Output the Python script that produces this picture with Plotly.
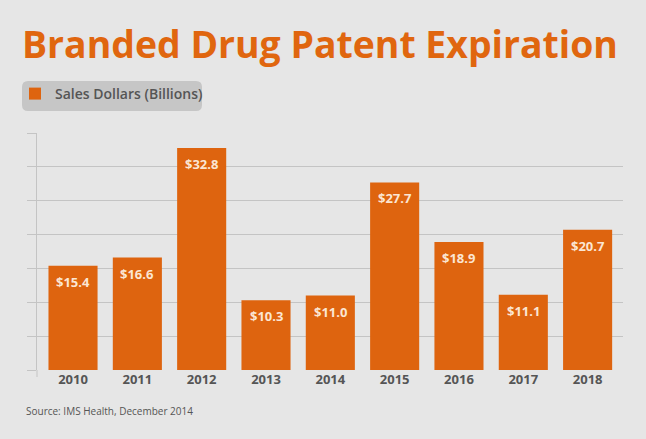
import plotly.graph_objects as go

years = ["2010", "2011", "2012", "2013", "2014", "2015", "2016", "2017", "2018"]
sales = [15.4, 16.6, 32.8, 10.3, 11.0, 27.7, 18.9, 11.1, 20.7]
labels = ["$15.4", "$16.6", "$32.8", "$10.3", "$11.0", "$27.7", "$18.9", "$11.1", "$20.7"]

W, H = 646, 439
L, R, T, B = 37, 23, 133, 69
PW, PH = W - L - R, H - T - B

def px(xp):
    return (xp - L) / PW

def py(yp):
    return (H - B - yp) / PH

BG = "#e6e6e6"
ORANGE = "#de640f"
GRID = "#c4c4c4"
TXT = "#555555"
FONT = "Open Sans"

fig = go.Figure()
fig.add_trace(go.Bar(
    x=years, y=sales, name="Sales Dollars (Billions)",
    marker=dict(color=ORANGE, line=dict(width=0)),
    hoverinfo="skip",
))

# value labels inside top of each bar (category index positions on the x axis)
for i, (v, lab) in enumerate(zip(sales, labels)):
    fig.add_annotation(x=i, y=v, xref="x", yref="y", text="<b>" + lab + "</b>",
                       showarrow=False, yanchor="top", yshift=-5,
                       font=dict(family=FONT, size=13, color="#fbe6d3"))

# rounded legend background
x0, x1 = px(22), px(202)
y0, y1 = py(111), py(81)
rx, ry = 6 / PW, 6 / PH
path = (f"M {x0+rx},{y0} L {x1-rx},{y0} Q {x1},{y0} {x1},{y0+ry} "
        f"L {x1},{y1-ry} Q {x1},{y1} {x1-rx},{y1} L {x0+rx},{y1} "
        f"Q {x0},{y1} {x0},{y1-ry} L {x0},{y0+ry} Q {x0},{y0} {x0+rx},{y0} Z")
fig.add_shape(type="path", path=path, xref="paper", yref="paper",
              fillcolor="#c6c6c6", line=dict(width=0), layer="below")

# axis line extension below baseline
fig.add_shape(type="line", xref="paper", yref="paper", x0=0, x1=0,
              y0=py(377), y1=0, line=dict(color=GRID, width=1))

fig.add_annotation(text="<b>Branded Drug Patent Expiration</b>", xref="paper", yref="paper",
                   x=px(20), y=py(43), xanchor="left", yanchor="middle", showarrow=False,
                   font=dict(family=FONT, size=37.4, color="#e0660f"))

fig.add_annotation(text="Source: IMS Health, December 2014", xref="paper", yref="paper",
                   x=px(24), y=py(411), xanchor="left", yanchor="middle", showarrow=False,
                   font=dict(family=FONT, size=10, color=TXT))

fig.update_layout(
    width=W, height=H,
    margin=dict(l=L, r=R, t=T, b=B, pad=0),
    paper_bgcolor=BG, plot_bgcolor=BG,
    bargap=0.237,
    showlegend=True,
    legend=dict(x=px(15), y=py(78), xanchor="left", yanchor="top",
                bgcolor="rgba(0,0,0,0)", borderwidth=0,
                font=dict(family=FONT, size=14, color=TXT, weight=600),
                itemclick=False, itemdoubleclick=False),
    xaxis=dict(type="category", range=[-0.56, 8.55], showgrid=False, showline=False,
               ticks="", tickfont=dict(family=FONT, size=13, color=TXT, weight="bold"),
               fixedrange=True),
    yaxis=dict(range=[0, 35], dtick=5, showgrid=True, gridcolor=GRID, gridwidth=1,
               zeroline=False, showline=True, linecolor=GRID, linewidth=1,
               ticks="outside", ticklen=9, tickcolor=GRID, tickwidth=1,
               showticklabels=False, fixedrange=True),
)

fig.write_html("out.html", config={"displayModeBar": False},
               post_script="document.body.style.margin='0';document.body.style.overflow='hidden';")
